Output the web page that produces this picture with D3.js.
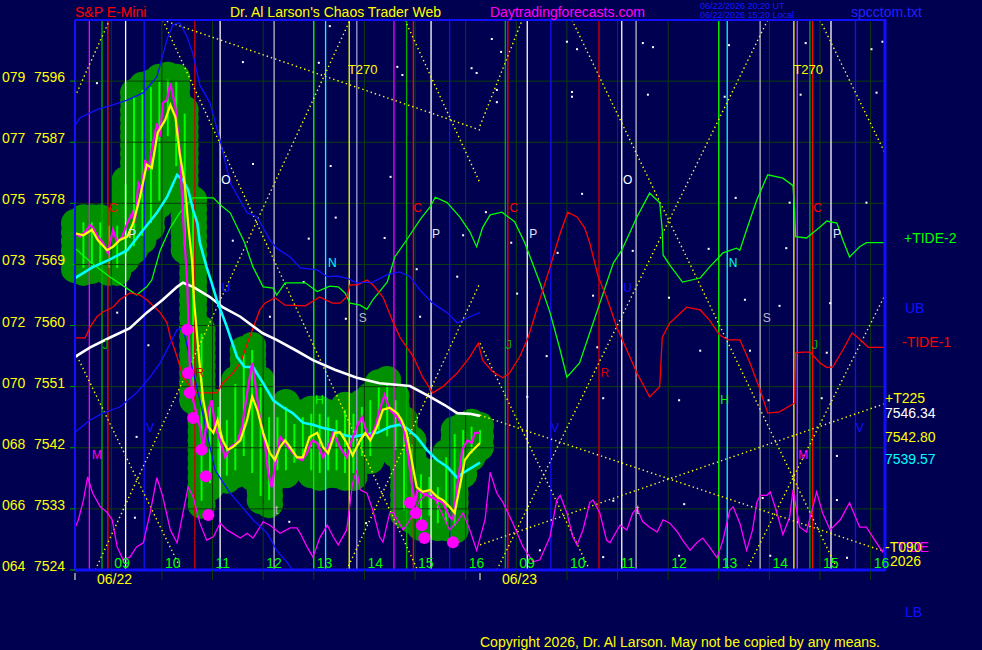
<!DOCTYPE html>
<html>
<head>
<meta charset="utf-8">
<script src="https://cdn.jsdelivr.net/npm/d3@7"></script>
<style>
  html, body { margin: 0; padding: 0; background: #000050; }
  svg { display: block; font-family: "Liberation Sans", Arial, sans-serif; }
</style>
</head>
<body>
<div id="chart"></div>
<script>
// ---- axis data ----
const yTicks = [7524, 7533, 7542, 7551, 7560, 7569, 7578, 7587, 7596];
const yCodes = ["064", "066", "068", "070", "072", "073", "075", "077", "079"];
const hourLabels = ["09", "10", "11", "12", "13", "14", "15", "16"];
const dayLabels = ["06/22", "06/23"];
const SESSION_OPEN = 8 * 60 + 17;   // clock minute at left edge of each day
const DAY_MIN = 480;                // minutes shown per day
const BAR_STEP = 10;                // minutes per price bar

// ---- price bars, day 1 (10 min) ----
const barHigh = [7575.1, 7575.8, 7575.8, 7575.8, 7575.3, 7575.3, 7581.4, 7594.3, 7595.3, 7595.7,
  7596.5, 7596.8, 7596.5, 7591.8, 7578.5, 7559.4, 7548.6, 7548.6, 7546.7, 7552.0,
  7556.4, 7557.0, 7552.0, 7547.1, 7547.1, 7548.6, 7546.1, 7547.1, 7547.6, 7547.6,
  7547.1, 7546.7, 7548.2, 7547.6, 7548.6, 7549.6, 7551.5, 7552.0, 7549.6, 7546.1,
  7543.1, 7538.7, 7538.3, 7536.8, 7541.2, 7544.6, 7545.2, 7545.7, 7545.2];
const barLow = [7568.3, 7567.9, 7568.2, 7568.5, 7567.9, 7567.9, 7569.7, 7571.1, 7572.6, 7574.5,
  7577.8, 7587.3, 7582.9, 7571.1, 7549.0, 7533.6, 7536.2, 7537.3, 7537.3, 7538.1,
  7540.2, 7537.7, 7534.3, 7533.7, 7538.1, 7538.1, 7539.2, 7539.6, 7538.1, 7537.7,
  7538.1, 7538.1, 7537.7, 7537.7, 7540.2, 7540.2, 7544.0, 7543.1, 7541.1, 7532.2,
  7531.4, 7530.3, 7531.4, 7530.3, 7530.3, 7529.9, 7538.1, 7540.6, 7542.1];

// ---- lines: [session minute, price] ----
const closeLine = [[0,7573.6],[6,7573.1],[12,7573.8],[18,7574.8],[21,7574.5],[27,7573.1],[33,7572.2],[39,7570.7],[45,7574.1],[50,7572.2],[56,7573.1],[62,7575.1],[68,7576.6],[71,7575.1],[75,7581.0],[79,7580.0],[83,7584.4],[87,7582.9],[91,7585.9],[97,7589.8],[101,7587.8],[104,7592.8],[109,7593.2],[113,7595.7],[119,7592.2],[124,7585.9],[128,7576.0],[133,7566.3],[136,7553.9],[140,7549.0],[148,7545.1],[152,7542.1],[158,7547.6],[162,7549.0],[166,7545.1],[172,7543.1],[178,7540.6],[184,7542.1],[192,7542.7],[198,7545.1],[204,7550.1],[210,7554.5],[213,7552.0],[219,7546.5],[225,7542.7],[229,7538.3],[233,7536.2],[237,7539.2],[243,7543.6],[249,7542.7],[255,7541.7],[263,7540.6],[269,7540.2],[275,7541.2],[281,7543.1],[287,7542.7],[294,7540.6],[300,7542.1],[306,7544.2],[314,7542.1],[322,7540.6],[328,7543.1],[334,7545.1],[340,7546.5],[346,7544.2],[350,7543.6],[356,7545.1],[361,7547.6],[367,7549.8],[373,7547.6],[382,7546.5],[389,7545.1],[395,7540.6],[399,7536.8],[403,7533.9],[406,7535.8],[412,7535.3],[421,7534.8],[429,7534.3],[436,7533.9],[444,7531.8],[448,7531.4],[454,7537.3],[459,7541.7],[465,7543.1],[470,7542.7],[474,7544.2],[480,7544.2]];

const smoothLine = [[0,7573.6],[10,7573.3],[20,7574.1],[27,7572.6],[38,7571.1],[45,7571.6],[53,7572.6],[62,7573.1],[69,7575.1],[77,7578.9],[85,7583.7],[91,7583.2],[98,7588.4],[107,7590.3],[113,7592.5],[119,7590.7],[124,7585.4],[130,7581.0],[134,7575.1],[139,7569.2],[141,7563.8],[148,7553.9],[152,7549.0],[158,7545.1],[164,7544.2],[169,7546.1],[175,7543.1],[181,7541.7],[187,7542.1],[196,7543.1],[204,7546.1],[210,7549.5],[216,7547.6],[223,7544.2],[231,7541.2],[237,7540.2],[243,7542.1],[249,7543.1],[255,7542.1],[263,7540.6],[270,7540.6],[278,7543.6],[287,7544.2],[294,7542.1],[300,7541.2],[308,7544.2],[314,7544.3],[322,7542.7],[329,7540.9],[338,7543.1],[344,7544.2],[350,7543.1],[358,7545.1],[365,7547.6],[373,7547.9],[382,7547.1],[387,7546.1],[393,7544.2],[399,7540.2],[405,7536.2],[412,7535.5],[421,7535.8],[429,7534.8],[436,7534.3],[444,7533.3],[450,7532.4],[456,7536.2],[462,7540.2],[468,7541.2],[480,7542.7]];

const fastAvg = [[0,7567.0],[21,7568.6],[41,7569.7],[62,7571.1],[81,7574.1],[97,7576.6],[109,7578.9],[121,7582.2],[128,7581.4],[134,7580.0],[140,7577.0],[145,7575.1],[148,7572.2],[156,7568.6],[162,7566.3],[168,7563.8],[180,7559.8],[192,7555.4],[201,7553.9],[211,7553.9],[223,7551.5],[235,7549.0],[246,7548.0],[258,7547.1],[270,7545.7],[282,7545.4],[294,7544.9],[306,7544.6],[318,7543.9],[329,7543.6],[341,7543.9],[358,7544.2],[373,7545.1],[385,7545.4],[393,7544.9],[405,7543.6],[417,7541.7],[429,7540.2],[441,7539.2],[453,7537.6],[460,7538.3],[480,7539.8]];

const slowAvg = [[0,7555.4],[18,7556.8],[41,7558.2],[65,7559.6],[85,7561.9],[104,7563.8],[121,7565.7],[128,7566.3],[140,7565.7],[160,7564.2],[175,7562.7],[196,7561.3],[222,7558.9],[239,7557.9],[261,7556.4],[282,7554.9],[308,7553.5],[334,7552.3],[361,7551.5],[397,7551.1],[421,7549.5],[438,7548.3],[453,7547.1],[468,7547.0],[480,7546.7]];

const tidePlus2 = [[0,7571.4],[18,7569.4],[41,7567.2],[59,7565.7],[73,7564.5],[85,7565.7],[91,7566.7],[101,7571.1],[113,7574.4],[124,7576.6],[140,7578.8],[164,7578.8],[172,7577.8],[184,7576.6],[201,7572.2],[211,7568.6],[223,7565.7],[235,7565.5],[239,7564.5],[249,7566.3],[273,7566.3],[287,7565.0],[302,7565.8],[312,7565.7],[320,7564.8],[326,7563.3],[338,7563.0],[346,7562.4],[353,7563.8],[370,7566.4],[379,7570.1],[393,7572.6],[409,7575.6],[421,7577.5],[427,7578.9],[441,7578.1],[456,7576.0],[468,7573.8],[476,7571.6],[483,7574.4],[492,7576.3],[506,7576.7],[521,7575.3],[533,7572.2],[551,7566.3],[563,7561.9],[575,7556.4],[583,7552.4],[598,7554.5],[610,7558.9],[622,7563.3],[638,7569.2],[648,7571.1],[666,7576.0],[681,7579.5],[693,7578.1],[696,7574.1],[697,7570.4],[705,7568.9],[720,7566.4],[741,7567.0],[752,7568.6],[768,7570.7],[784,7571.4],[788,7571.1],[796,7574.1],[808,7578.5],[821,7582.2],[839,7581.7],[851,7580.6],[853,7576.6],[854,7573.1],[867,7572.9],[883,7574.5],[891,7575.4],[903,7575.1],[910,7572.6],[918,7570.1],[930,7571.6],[938,7572.2],[960,7572.2]];

const tideMinus1 = [[0,7558.2],[12,7558.2],[18,7559.8],[26,7561.3],[33,7562.0],[45,7562.7],[53,7563.8],[65,7564.8],[77,7564.5],[85,7563.8],[101,7561.9],[109,7560.4],[113,7558.3],[121,7555.4],[128,7552.4],[140,7550.5],[145,7550.1],[168,7550.1],[175,7551.5],[187,7553.0],[196,7554.5],[207,7558.3],[219,7562.3],[225,7563.3],[237,7564.1],[249,7563.0],[273,7562.9],[290,7564.2],[305,7563.3],[314,7563.3],[322,7564.2],[326,7566.0],[335,7566.0],[346,7566.7],[353,7566.0],[365,7564.2],[376,7560.8],[385,7558.3],[401,7555.4],[412,7552.4],[424,7550.1],[436,7551.0],[453,7553.0],[468,7555.4],[478,7557.4],[483,7554.9],[495,7553.2],[507,7552.3],[515,7553.0],[527,7555.4],[537,7558.2],[547,7562.3],[563,7568.6],[575,7573.6],[584,7576.7],[595,7576.0],[604,7574.4],[610,7572.2],[620,7567.2],[630,7564.2],[642,7559.8],[654,7556.4],[666,7553.0],[681,7549.5],[693,7551.0],[696,7558.3],[705,7560.4],[725,7562.7],[741,7562.3],[752,7560.8],[764,7558.6],[774,7557.9],[788,7557.9],[800,7554.5],[812,7550.5],[821,7547.1],[835,7547.3],[853,7548.6],[854,7556.0],[863,7556.1],[871,7556.1],[883,7554.5],[891,7553.8],[898,7553.9],[910,7556.4],[921,7558.9],[928,7558.2],[940,7556.8],[960,7556.8]];

const tideCycle = [[0,7530.2],[4,7531.4],[10,7534.3],[15,7537.7],[21,7535.3],[30,7533.3],[38,7532.5],[44,7531.4],[50,7527.4],[57,7525.5],[65,7525.9],[73,7527.4],[81,7528.0],[89,7532.4],[97,7537.6],[104,7534.8],[113,7529.9],[121,7528.0],[128,7532.4],[134,7536.2],[140,7534.8],[148,7530.9],[156,7528.4],[164,7528.9],[172,7530.9],[180,7529.9],[187,7529.4],[196,7528.7],[204,7529.4],[211,7528.7],[223,7531.1],[231,7530.6],[243,7529.4],[255,7530.2],[263,7530.2],[267,7529.4],[275,7527.4],[282,7525.9],[290,7528.7],[299,7530.6],[306,7528.9],[312,7527.7],[322,7529.9],[329,7536.8],[334,7538.7],[338,7535.8],[346,7535.3],[353,7532.8],[361,7528.9],[365,7528.1],[373,7532.4],[377,7532.5],[382,7531.4],[389,7529.9],[397,7531.4],[409,7534.3],[421,7535.8],[433,7532.8],[444,7529.9],[453,7531.1],[460,7532.4],[468,7529.9],[476,7526.9],[486,7531.4],[492,7538.4],[500,7535.3],[507,7534.0],[519,7530.9],[531,7527.4],[543,7525.2],[551,7525.5],[563,7528.9],[571,7534.3],[575,7535.0],[583,7532.4],[590,7528.9],[595,7527.7],[602,7529.9],[610,7533.9],[614,7534.3],[622,7532.4],[630,7528.4],[634,7528.0],[646,7530.6],[654,7529.9],[661,7532.4],[666,7533.1],[673,7531.1],[681,7530.3],[690,7529.6],[697,7531.4],[705,7530.9],[714,7529.6],[720,7528.4],[729,7526.9],[737,7528.0],[744,7528.7],[752,7527.4],[761,7525.8],[768,7528.4],[776,7532.8],[780,7533.3],[788,7530.9],[796,7526.9],[803,7529.9],[808,7533.9],[812,7535.0],[820,7535.0],[824,7535.5],[832,7532.4],[839,7529.2],[847,7531.8],[851,7535.8],[859,7530.3],[867,7529.6],[879,7535.5],[886,7532.4],[895,7529.9],[907,7531.4],[918,7533.9],[930,7530.3],[938,7530.3],[950,7528.0],[957,7526.7],[960,7527.4]];

const upperBand = [[0,7589.5],[6,7590.6],[26,7591.8],[45,7592.5],[62,7593.2],[81,7594.3],[97,7596.6],[109,7602.1],[116,7604.3],[124,7604.6],[133,7602.5],[140,7599.9],[148,7595.4],[160,7592.8],[172,7587.3],[184,7581.0],[204,7576.6],[216,7576.0],[231,7572.6],[239,7571.4],[255,7570.1],[267,7568.5],[287,7568.2],[299,7567.2],[310,7567.3],[322,7567.0],[334,7566.3],[353,7566.4],[370,7567.5],[385,7567.9],[397,7567.2],[409,7565.2],[424,7563.3],[441,7561.9],[453,7560.4],[468,7561.3],[480,7561.9]];

const lowerBand = [[0,7544.3],[18,7546.1],[33,7547.1],[53,7548.0],[73,7550.1],[89,7552.4],[101,7554.5],[113,7557.4],[121,7559.4],[128,7559.6],[148,7549.0],[166,7538.7],[184,7535.3],[196,7533.6],[211,7531.4],[228,7529.4],[239,7526.9],[251,7525.2],[267,7522.5],[290,7519.6]];

const turnDots = [[133,7559.4],[134,7553.0],[136,7550.1],[140,7546.4],[150,7541.7],[155,7537.8],[158,7532.1],[397,7533.9],[404,7532.4],[411,7530.6],[414,7528.7],[448,7528.1]];

// Gann / time lattice segments [[m1,p1],[m2,p2]]
const lattice = [
  [[0,7593.7],[41,7605.0]], [[104,7605.0],[406,7524.0]], [[24,7524.0],[326,7605.0]],
  [[104,7605.0],[480,7588.8]], [[391,7605.0],[480,7581.0]], [[480,7589.4],[530,7605.0]],
  [[589,7605.0],[904,7524.0]], [[500,7524.0],[821,7605.0]], [[883,7605.0],[960,7585.4]],
  [[796,7524.0],[960,7564.5]], [[480,7546.8],[960,7526.7]], [[480,7527.7],[960,7548.5]],
  [[0,7556.1],[126,7524.0]], [[322,7524.0],[480,7566.3]], [[480,7557.4],[610,7524.0]]
];

// planetary time lines
const aspectMin = [17,32,39,60,82,142,172,236,283,297,325,334,378,393,401,422,444,
  510,513,536,564,621,648,665,763,773,812,852,856,871,874,896,925];
const aspectKind = ["mag","grn","red","wht","blu","dred","wht","gry","lime","cyn","yel","lav","mag","grn","red","wht","blu",
  "grn","red","wht","blu","dred","wht","gry","lime","cyn","gry","yel","vio","grn","red","wht","blu"];

// letter markers [minute, price, text, kind]
const markers = [
  [26,7540.9,"M","mag"],[863,7540.9,"M","mag"],
  [45,7577.3,"C","red"],[406,7577.3,"C","red"],[520,7577.3,"C","red"],[880,7577.3,"C","red"],
  [68,7573.5,"P","pwh"],[428,7573.5,"P","pwh"],[543,7573.5,"P","pwh"],[903,7573.5,"P","pwh"],
  [36,7557.1,"J","grn"],[514,7557.1,"J","grn"],[877,7557.1,"J","grn"],
  [89,7544.9,"V","blu"],[569,7544.9,"V","blu"],[930,7544.9,"V","blu"],
  [148,7553.0,"R","dred"],[628,7553.0,"R","dred"],
  [179,7565.5,"U","blu"],[655,7565.5,"U","blu"],
  [179,7581.4,"O","wht"],[655,7581.4,"O","wht"],
  [305,7569.2,"N","cyn"],[780,7569.2,"N","cyn"],
  [341,7561.1,"S","gry"],[820,7561.1,"S","gry"],
  [290,7549.0,"H","lime"],[770,7549.0,"H","lime"],
  [239,7532.8,"t","gry"],[667,7532.8,"t","gry"],
  [341,7597.7,"T270","yel"],[869,7597.7,"T270","yel"]
];

const stars = [[199,7598.8],[302,7604.1],[289,7598.7],[382,7598.1],[388,7596.9],[470,7597.9],[476,7597.2],[26,7595.7],
  [494,7602.2],[505,7600.3],[500,7594.7],[500,7592.9],[583,7601.8],[595,7600.7],[589,7594.4],[589,7593.7],
  [673,7601.6],[685,7601.0],[679,7594.0],[775,7601.3],[770,7593.7],[866,7601.6],[860,7594.0],[944,7600.7],
  [950,7594.3],[957,7601.8],[487,7576.7],[601,7579.4],[661,7571.0],[751,7571.3],[783,7578.8],[843,7571.4],
  [938,7578.1],[524,7564.7],[614,7564.4],[704,7564.1],[794,7563.8],[835,7562.9],[895,7563.3],[559,7555.5],
  [619,7556.8],[741,7556.3],[800,7556.3],[891,7556.0],[536,7549.5],[626,7549.3],[716,7549.0],[822,7549.0],
  [885,7549.3],[517,7572.2],[572,7570.7],[211,7583.8],[303,7583.5],[374,7581.9],[187,7572.5],[277,7572.8],
  [309,7575.9],[367,7572.9],[231,7561.3],[321,7561.0],[405,7568.3],[409,7561.3],[453,7567.2],[460,7573.3],
  [271,7566.4],[71,7531.7],[254,7531.1],[345,7530.9],[551,7526.9],[626,7525.9],[716,7526.1],[824,7526.1],
  [915,7525.8],[722,7533.7],[638,7534.2],[815,7534.6],[903,7534.3],[50,7561.9],[87,7557.1],[73,7543.6],
  [847,7578.1],[903,7540.8]];

// right side labels [text, value, kind]; the magenta TIDE sits under -T090
const rightLabels = [["+TIDE-2",7572.2,"lime"],["UB",7561.9,"blu"],["-TIDE-1",7556.8,"red"],["+T225",7548.6,"yel"],
  ["7546.34",7546.34,"wht"],["7542.80",7542.80,"yel"],["7539.57",7539.57,"cyn"],["TIDE",7526.7,"mag"],
  ["-T090",7526.7,"yel"],["2026",7524.6,"yel"],["LB",7517.1,"blu"]];
const rightLabelX = [904, 905, 902, 885, 885, 885, 885, 897, 885, 890, 905];

// ---- setup ----
const width = 982, height = 650;
const LEFT = 75, RIGHT = 885, TOP = 20, BOTTOM = 570;
const GRID = "#0b3f0b";

const kindColor = {
  mag: "#ff00ff", grn: "#00b000", lime: "#00ff00", red: "#ff0000", dred: "#d00000",
  wht: "#ffffff", pwh: "#e0e0ff", gry: "#b8b8c8", lav: "#a0a0d8", blu: "#1010ff",
  cyn: "#00ffff", yel: "#ffff00", vio: "#c040ff"
};

const x = d3.scaleLinear().domain([0, 2 * DAY_MIN]).range([LEFT, RIGHT]);
const y = d3.scaleLinear().domain([7524, 7605]).range([BOTTOM, TOP]);

const svg = d3.select("#chart").append("svg")
  .attr("width", width).attr("height", height);

svg.append("rect").attr("width", width).attr("height", height).attr("fill", "#000050");

svg.append("defs").append("clipPath").attr("id", "plotClip")
  .append("rect").attr("x", LEFT).attr("y", TOP)
  .attr("width", RIGHT - LEFT).attr("height", BOTTOM - TOP);

// layers, bottom to top
const bubbleLayer = svg.append("g");
const plot = svg.append("g").attr("clip-path", "url(#plotClip)");
const frontLayer = svg.append("g");

// price bubbles: dark green blobs filling each bar's range
barHigh.forEach((hi, i) => {
  const cx = x(i * BAR_STEP), y0 = y(hi), y1 = y(barLow[i]);
  const n = Math.max(1, Math.round((y1 - y0) / 9));
  d3.range(n + 1).forEach(k => {
    bubbleLayer.append("circle").attr("cx", cx).attr("cy", y0 + (y1 - y0) * k / n)
      .attr("r", 14).attr("fill", "#009000");
  });
});
bubbleLayer.selectAll("line").data(barHigh).enter().append("line")
  .attr("x1", (d, i) => x(i * BAR_STEP)).attr("x2", (d, i) => x(i * BAR_STEP))
  .attr("y1", d => y(d) + 4).attr("y2", (d, i) => y(barLow[i]) - 4)
  .attr("stroke", "#00ff00").attr("stroke-width", 2);

// hour positions (session minutes) for both days
const hourMarks = [];
dayLabels.forEach((d, di) => {
  hourLabels.forEach(h => hourMarks.push({ m: di * DAY_MIN + (+h) * 60 - SESSION_OPEN, label: h }));
});

// grid
plot.append("g").selectAll("line").data(yTicks).enter().append("line")
  .attr("x1", LEFT).attr("x2", RIGHT)
  .attr("y1", d => y(d)).attr("y2", d => y(d))
  .attr("stroke", GRID).attr("stroke-width", 1);

plot.append("g").selectAll("line").data(hourMarks).enter().append("line")
  .attr("x1", d => x(d.m)).attr("x2", d => x(d.m))
  .attr("y1", TOP).attr("y2", BOTTOM)
  .attr("stroke", GRID).attr("stroke-width", 1);

// stars
plot.append("g").selectAll("rect").data(stars).enter().append("rect")
  .attr("x", d => x(d[0]) - 1).attr("y", d => y(d[1]) - 1)
  .attr("width", 2).attr("height", 2).attr("fill", "#ffffff");

// vertical time lines
plot.append("g").selectAll("line").data(aspectMin).enter().append("line")
  .attr("x1", d => x(d)).attr("x2", d => x(d))
  .attr("y1", TOP).attr("y2", BOTTOM)
  .attr("stroke", (d, i) => kindColor[aspectKind[i]])
  .attr("stroke-width", 1.3);

// lattice
plot.append("g").selectAll("line").data(lattice).enter().append("line")
  .attr("x1", d => x(d[0][0])).attr("y1", d => y(d[0][1]))
  .attr("x2", d => x(d[1][0])).attr("y2", d => y(d[1][1]))
  .attr("stroke", "#ffff00").attr("stroke-width", 1.4)
  .attr("stroke-dasharray", "1.4,3");

const line = d3.line().x(d => x(d[0])).y(d => y(d[1]));

// tides and bands
const thin = [[tidePlus2, "#00ff00"], [tideMinus1, "#ff0000"], [tideCycle, "#ff00ff"],
  [upperBand, "#1010ff"], [lowerBand, "#1010ff"]];
thin.forEach(([data, col]) => {
  plot.append("path").attr("d", line(data))
    .attr("fill", "none").attr("stroke", col).attr("stroke-width", 1.3);
});

// averages and price
plot.append("path").attr("d", line(slowAvg)).attr("fill", "none")
  .attr("stroke", "#ffffff").attr("stroke-width", 2.6);
plot.append("path").attr("d", line(fastAvg)).attr("fill", "none")
  .attr("stroke", "#00ffff").attr("stroke-width", 2.6);
plot.append("path").attr("d", line(closeLine)).attr("fill", "none")
  .attr("stroke", "#ff00ff").attr("stroke-width", 2.2);

frontLayer.append("g").selectAll("circle").data(turnDots).enter().append("circle")
  .attr("cx", d => x(d[0])).attr("cy", d => y(d[1])).attr("r", 6)
  .attr("fill", "#ff00ff");

frontLayer.append("path").attr("d", line(smoothLine)).attr("fill", "none")
  .attr("stroke", "#ffff00").attr("stroke-width", 2.2);

// letter markers
frontLayer.append("g").selectAll("text").data(markers).enter().append("text")
  .attr("x", d => x(d[0])).attr("y", d => y(d[1]))
  .attr("text-anchor", "middle").attr("dominant-baseline", "central")
  .style("font-size", d => d[2].length > 1 ? "13px" : "12px")
  .attr("fill", d => kindColor[d[3]])
  .text(d => d[2]);

// frame
frontLayer.append("line").attr("x1", LEFT).attr("x2", RIGHT).attr("y1", TOP).attr("y2", TOP)
  .attr("stroke", "#1010ff").attr("stroke-width", 2);
frontLayer.append("line").attr("x1", LEFT).attr("x2", RIGHT + 1).attr("y1", BOTTOM).attr("y2", BOTTOM)
  .attr("stroke", "#1010ff").attr("stroke-width", 3);
frontLayer.append("line").attr("x1", LEFT).attr("x2", LEFT).attr("y1", TOP).attr("y2", BOTTOM)
  .attr("stroke", "#1010ff").attr("stroke-width", 2);
frontLayer.append("line").attr("x1", RIGHT).attr("x2", RIGHT).attr("y1", TOP - 1).attr("y2", BOTTOM)
  .attr("stroke", "#1010ff").attr("stroke-width", 3);

// left axis
const yAxis = frontLayer.append("g");
yAxis.selectAll("line").data(yTicks).enter().append("line")
  .attr("x1", LEFT - 5).attr("x2", LEFT).attr("y1", d => y(d)).attr("y2", d => y(d))
  .attr("stroke", "#00a000").attr("stroke-width", 1);
yAxis.selectAll("text.code").data(yTicks).enter().append("text")
  .attr("x", 2).attr("y", d => y(d) + 1)
  .attr("fill", "#ffff00").style("font-size", "14px")
  .text((d, i) => yCodes[i]);
yAxis.selectAll("text.val").data(yTicks).enter().append("text")
  .attr("x", 34).attr("y", d => y(d) + 1)
  .attr("fill", "#ffff00").style("font-size", "14px")
  .text(d => d);

// bottom axis
const xAxis = frontLayer.append("g");
xAxis.selectAll("line").data(hourMarks).enter().append("line")
  .attr("x1", d => x(d.m)).attr("x2", d => x(d.m))
  .attr("y1", BOTTOM).attr("y2", BOTTOM + 10)
  .attr("stroke", GRID).attr("stroke-width", 1);
xAxis.selectAll("text.hr").data(hourMarks).enter().append("text")
  .attr("x", d => x(d.m) + 3).attr("y", BOTTOM - 2)
  .attr("fill", "#00ff00").style("font-size", "14px")
  .text(d => d.label);
xAxis.selectAll("line.day").data(dayLabels).enter().append("line")
  .attr("x1", (d, i) => x(i * DAY_MIN)).attr("x2", (d, i) => x(i * DAY_MIN))
  .attr("y1", BOTTOM + 3).attr("y2", BOTTOM + 10)
  .attr("stroke", "#e0e0c0").attr("stroke-width", 1.2);
xAxis.selectAll("text.day").data(dayLabels).enter().append("text")
  .attr("x", (d, i) => x(i * DAY_MIN) + 22).attr("y", BOTTOM + 14)
  .attr("fill", "#ffff00").style("font-size", "14px")
  .text(d => d);

// right labels
frontLayer.append("g").selectAll("text").data(rightLabels).enter().append("text")
  .attr("x", (d, i) => rightLabelX[i]).attr("y", d => y(d[1]))
  .attr("fill", d => kindColor[d[2]]).style("font-size", "14px")
  .text(d => d[0]);

// titles
const titles = [["S&P E-Mini", 75, "#ff0000"], ["Dr. Al Larson's Chaos Trader Web", 230, "#ffff00"],
  ["Daytradingforecasts.com", 490, "#ff00ff"], ["spcctom.txt", 851, "#2020ff"]];
frontLayer.append("g").selectAll("text").data(titles).enter().append("text")
  .attr("x", d => d[1]).attr("y", 17)
  .attr("fill", d => d[2]).style("font-size", "14px")
  .text(d => d[0]);

frontLayer.append("text").attr("x", 700).attr("y", 9).attr("fill", "#1818ff")
  .style("font-size", "9px").text("06/22/2026 20:20 UT");
frontLayer.append("text").attr("x", 700).attr("y", 18).attr("fill", "#1818ff")
  .style("font-size", "9px").text("06/22/2026 15:20 Local");

frontLayer.append("text").attr("x", 480).attr("y", 647).attr("fill", "#ffff00")
  .style("font-size", "14px")
  .text("Copyright 2026, Dr. Al Larson. May not be copied by any means.");
</script>
</body>
</html>
